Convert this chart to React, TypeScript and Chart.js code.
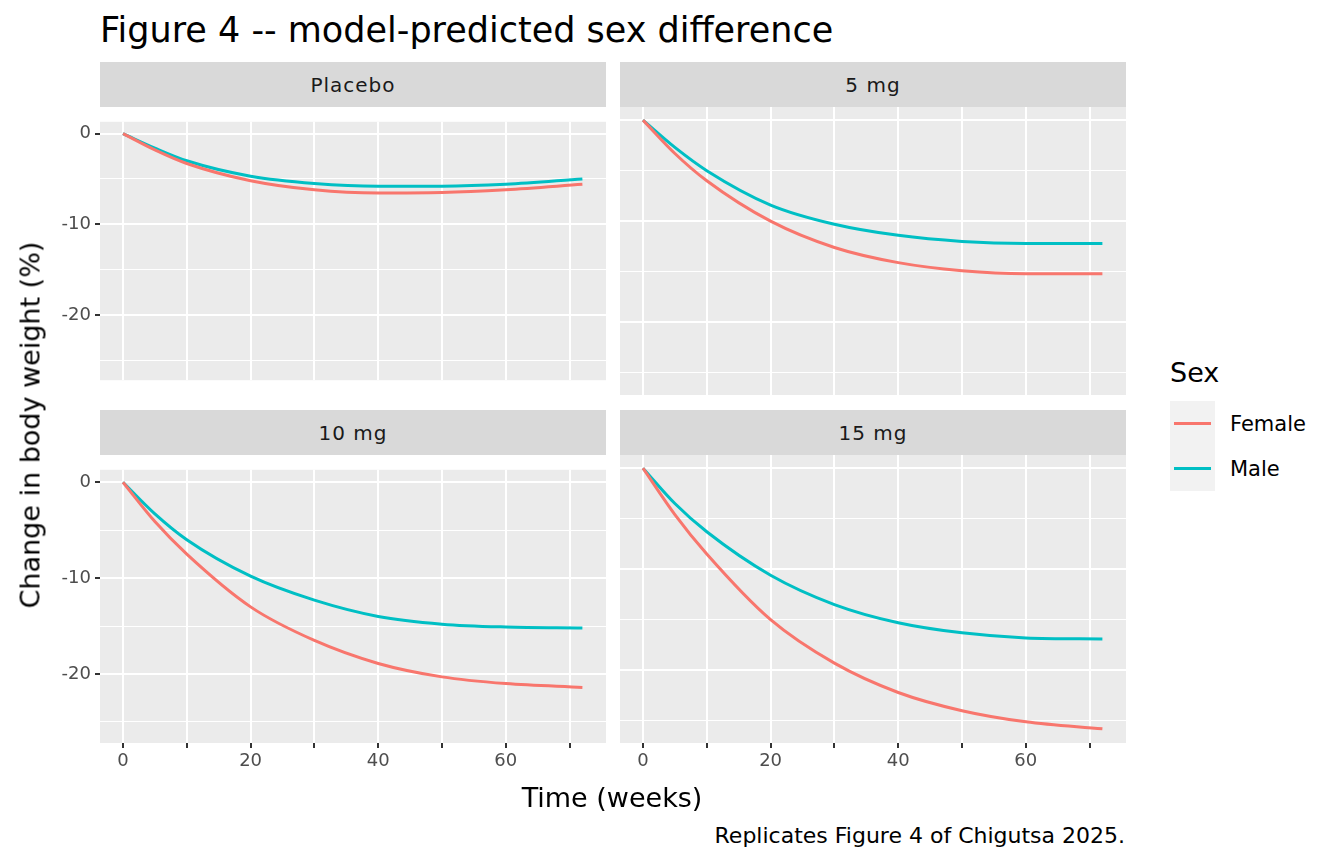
import React, { useEffect, useRef } from "react";
import { Chart, registerables } from "chart.js";
Chart.register(...registerables);

const weeks = [0, 5, 10, 20, 30, 40, 50, 60, 72];
const panels = ["Placebo", "5 mg", "10 mg", "15 mg"];
const female = [
  [0, -1.8, -3.3, -5.2, -6.2, -6.55, -6.5, -6.2, -5.6],
  [0, -3.3, -6.0, -10.0, -12.6, -14.1, -14.9, -15.2, -15.2],
  [0, -4.1, -7.5, -13.0, -16.5, -18.9, -20.3, -21.0, -21.4],
  [0, -4.6, -8.5, -15.0, -19.3, -22.2, -24.0, -25.1, -25.8],
];
const male = [
  [0, -1.6, -3.0, -4.7, -5.5, -5.8, -5.8, -5.6, -5.0],
  [0, -2.7, -5.0, -8.4, -10.3, -11.4, -12.0, -12.2, -12.2],
  [0, -3.3, -6.0, -9.8, -12.3, -14.0, -14.8, -15.1, -15.2],
  [0, -3.5, -6.3, -10.6, -13.5, -15.3, -16.3, -16.8, -16.9],
];
const xTicks = [0, 10, 20, 30, 40, 50, 60, 70];
const yTicks = [-25, -20, -15, -10, -5, 0];
const RED = "#F8766D";
const TEAL = "#00BFC4";
const FONT = "'DejaVu Sans', sans-serif";

const bgPlugin = {
  id: "bg",
  beforeDraw(c: any) {
    const a = c.chartArea;
    c.ctx.save();
    c.ctx.fillStyle = "#EBEBEB";
    c.ctx.fillRect(a.left, a.top, a.right - a.left, a.bottom - a.top);
    c.ctx.restore();
  },
};

function Panel({ idx, left, top, showY, showX }: any) {
  const ref = useRef<HTMLCanvasElement>(null);
  const yW = showY ? 60 : 0;
  const xH = showX ? 40 : 0;
  const pw = 506, ph = 288;
  useEffect(() => {
    const tickCol = (c: any) => (c.tick && c.tick.value % 10 === 0 ? "#333333" : "rgba(0,0,0,0)");
    const gw = (c: any) => (c.tick && c.tick.value % 10 === 0 ? 2 : 1);
    const chart = new Chart(ref.current!, {
      type: "line",
      data: {
        datasets: [
          { data: weeks.map((w, i) => ({ x: w, y: female[idx][i] })), borderColor: RED, borderWidth: 3, pointRadius: 0, cubicInterpolationMode: "monotone" },
          { data: weeks.map((w, i) => ({ x: w, y: male[idx][i] })), borderColor: TEAL, borderWidth: 3, pointRadius: 0, cubicInterpolationMode: "monotone" },
        ],
      },
      options: {
        animation: false,
        responsive: false,
        maintainAspectRatio: false,
        layout: { padding: 0, autoPadding: false },
        plugins: { legend: { display: false }, tooltip: { enabled: false } },
        scales: {
          x: {
            type: "linear", min: -3.6, max: 75.7,
            afterBuildTicks: (s: any) => { s.ticks = xTicks.map((v) => ({ value: v })); },
            afterFit: (s: any) => { s.height = xH; },
            border: { display: false },
            grid: { color: "#FFFFFF", lineWidth: gw, tickColor: tickCol, tickLength: 5, drawTicks: showX },
            ticks: { display: showX, color: "#4D4D4D", font: { family: FONT, size: 18 }, padding: 3, maxRotation: 0, autoSkip: false,
              callback: (v: any) => (v % 20 === 0 ? String(v) : "") },
          },
          y: {
            type: "linear", min: -27.2, max: 1.3,
            afterBuildTicks: (s: any) => { s.ticks = yTicks.map((v) => ({ value: v })); },
            afterFit: (s: any) => { s.width = yW; },
            border: { display: false },
            grid: { color: "#FFFFFF", lineWidth: gw, tickColor: tickCol, tickLength: 5, drawTicks: showY },
            ticks: { display: showY, color: "#4D4D4D", font: { family: FONT, size: 18 }, padding: 4, autoSkip: false,
              callback: (v: any) => (v % 10 === 0 ? String(v) : "") },
          },
        },
      } as any,
      plugins: [bgPlugin],
    });
    return () => chart.destroy();
  }, []);
  const w = pw + yW, h = ph + xH;
  return (
    <>
      <div style={{ position: "absolute", left, top: top - 45, width: pw, height: 45, background: "#D9D9D9", color: "#1A1A1A",
        fontSize: 20, letterSpacing: 1, display: "flex", alignItems: "center", justifyContent: "center" }}>{panels[idx]}</div>
      <canvas ref={ref} width={w} height={h} style={{ position: "absolute", left: left - yW, top, width: w, height: h }} />
    </>
  );
}

export default function App() {
  return (
    <div style={{ position: "absolute", left: 0, top: 0, width: 1344, height: 864, background: "#fff", fontFamily: FONT }}>
      <div style={{ position: "absolute", left: 100, top: 30, transform: "translateY(-50%)", fontSize: 35, color: "#000", whiteSpace: "nowrap" }}>Figure 4 -- model-predicted sex difference</div>
      <Panel idx={0} left={100} top={107} showY={true} showX={false} />
      <Panel idx={1} left={620} top={107} showY={false} showX={false} />
      <Panel idx={2} left={100} top={455} showY={true} showX={true} />
      <Panel idx={3} left={620} top={455} showY={false} showX={true} />
      <div style={{ position: "absolute", left: 30, top: 425, transform: "translate(-50%,-50%) rotate(-90deg)", fontSize: 27, whiteSpace: "nowrap" }}>Change in body weight (%)</div>
      <div style={{ position: "absolute", left: 612, top: 797, transform: "translate(-50%,-50%)", fontSize: 27, whiteSpace: "nowrap" }}>Time (weeks)</div>
      <div style={{ position: "absolute", right: 1344 - 1125, top: 835, transform: "translateY(-50%)", fontSize: 22, whiteSpace: "nowrap" }}>Replicates Figure 4 of Chigutsa 2025.</div>
      <div style={{ position: "absolute", left: 1170, top: 372, transform: "translateY(-50%)", fontSize: 27 }}>Sex</div>
      {[["Female", RED, 401], ["Male", TEAL, 446]].map(([lab, col, t]: any) => (
        <React.Fragment key={lab}>
          <div style={{ position: "absolute", left: 1170, top: t, width: 45, height: 45, background: "#F2F2F2" }}>
            <div style={{ position: "absolute", left: 4, right: 4, top: 21, height: 3, background: col }} />
          </div>
          <div style={{ position: "absolute", left: 1230, top: t + 23, transform: "translateY(-50%)", fontSize: 21 }}>{lab}</div>
        </React.Fragment>
      ))}
    </div>
  );
}
